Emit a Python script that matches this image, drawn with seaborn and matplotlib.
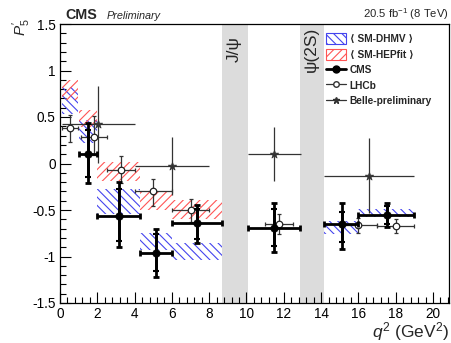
import numpy as np
import pandas as pd
import matplotlib
matplotlib.use("Agg")
import matplotlib.pyplot as plt
import seaborn as sns
from matplotlib.patches import Patch
from matplotlib.lines import Line2D
from matplotlib.ticker import MultipleLocator

# ---------------- data ----------------
# theory bins
th_lo = [0.1, 1.0, 2.0, 4.3, 6.0, 14.18, 16.0]
th_hi = [0.98, 2.0, 4.3, 6.0, 8.68, 16.0, 19.0]
dhmv_lo = [0.53, 0.22, -0.54, -0.93, -1.04, -0.76, -0.575]
dhmv_hi = [0.82, 0.47, -0.27, -0.75, -0.855, -0.62, -0.485]
hep_lo_bin = [0.1, 1.0, 2.0, 4.3, 6.0]
hep_hi_bin = [0.98, 2.0, 4.3, 6.0, 8.68]
hep_lo = [0.68, 0.39, -0.19, -0.50, -0.60]
hep_hi = [0.90, 0.57, 0.02, -0.30, -0.395]

# CMS
cms_lo = [1.0, 2.0, 4.3, 6.0, 10.09, 14.18, 16.0]
cms_hi = [2.0, 4.3, 6.0, 8.68, 12.86, 16.0, 19.0]
cms_x = [1.52, 3.15, 5.15, 7.37, 11.49, 15.14, 17.55]
cms_y = [0.105, -0.56, -0.96, -0.64, -0.69, -0.655, -0.555]
cms_tot_up = [0.33, 0.36, 0.26, 0.19, 0.26, 0.225, 0.125]
cms_tot_dn = [0.31, 0.34, 0.26, 0.22, 0.26, 0.26, 0.125]
cms_stat_up = [0.26, 0.29, 0.20, 0.15, 0.20, 0.13, 0.10]
cms_stat_dn = [0.25, 0.27, 0.20, 0.17, 0.20, 0.19, 0.10]

# LHCb
lhcb_lo = [0.1, 1.1, 2.5, 4.0, 6.0, 11.0, 15.0, 17.0]
lhcb_hi = [0.98, 2.5, 4.0, 6.0, 8.0, 12.5, 17.0, 19.0]
lhcb_y = [0.387, 0.289, -0.066, -0.300, -0.505, -0.655, -0.662, -0.676]
lhcb_up = [0.132, 0.220, 0.142, 0.131, 0.122, 0.108, 0.080, 0.074]
lhcb_dn = [0.161, 0.202, 0.141, 0.159, 0.122, 0.098, 0.083, 0.071]

# Belle preliminary
belle_lo = [0.1, 4.0, 10.09, 14.18]
belle_hi = [4.0, 8.0, 12.9, 19.0]
belle_y = [0.42, -0.03, 0.10, -0.13]
belle_err = [0.41, 0.31, 0.29, 0.40]

# charmonium vetoes
veto_lo = [8.68, 12.86]
veto_hi = [10.09, 14.18]
veto_labels = ["J/\u03c8", "\u03c8(2S)"]

# ---------------- style ----------------
sns.set_style("ticks")
plt.rcParams["font.family"] = ["Liberation Sans", "DejaVu Sans"]
plt.rcParams["mathtext.fontset"] = "custom"
plt.rcParams["mathtext.rm"] = "Liberation Sans"
plt.rcParams["mathtext.it"] = "Liberation Sans:italic"
plt.rcParams["mathtext.bf"] = "Liberation Sans:bold"
plt.rcParams["hatch.linewidth"] = 0.8

W, H = 451, 343
fig = plt.figure(figsize=(W / 100, H / 100), dpi=100)
ax = fig.add_axes([60 / W, 1 - 303 / H, 389 / W, 279 / H])

for lo, hi in zip(veto_lo, veto_hi):
    ax.axvspan(lo, hi, color="#dcdcdc", lw=0, zorder=0)

blue = "#4444ee"
red = "#ff5555"
th_lo_a = np.array(th_lo); th_hi_a = np.array(th_hi)
ax.bar(th_lo_a, np.array(dhmv_hi) - np.array(dhmv_lo), width=th_hi_a - th_lo_a,
       bottom=dhmv_lo, align="edge", facecolor="none", edgecolor=blue,
       hatch="\\\\\\\\", lw=0, zorder=1)
hl = np.array(hep_lo_bin); hh = np.array(hep_hi_bin)
ax.bar(hl, np.array(hep_hi) - np.array(hep_lo), width=hh - hl,
       bottom=hep_lo, align="edge", facecolor="none", edgecolor=red,
       hatch="////", lw=0, zorder=1)

# Belle
bx = (np.array(belle_lo) + np.array(belle_hi)) / 2
ax.errorbar(bx, belle_y, yerr=belle_err,
            xerr=[bx - np.array(belle_lo), np.array(belle_hi) - bx],
            fmt="none", ecolor="#333333", elinewidth=0.9, capsize=0, zorder=3)
sns.scatterplot(x=bx, y=belle_y, marker="*", s=40, color="#333333",
                edgecolor="#333333", linewidth=0.5, ax=ax, zorder=4, legend=False)

# LHCb
lx = (np.array(lhcb_lo) + np.array(lhcb_hi)) / 2
ax.errorbar(lx, lhcb_y, yerr=[lhcb_dn, lhcb_up],
            xerr=[lx - np.array(lhcb_lo), np.array(lhcb_hi) - lx],
            fmt="none", ecolor="#333333", elinewidth=0.9, capsize=1.2,
            capthick=0.9, zorder=3)
sns.scatterplot(x=lx, y=lhcb_y, marker="o", s=22, facecolor="white",
                edgecolor="#222222", linewidth=0.9, ax=ax, zorder=5, legend=False)

# CMS
cx = np.array(cms_x)
ax.errorbar(cx, cms_y, yerr=[cms_tot_dn, cms_tot_up],
            xerr=[cx - np.array(cms_lo), np.array(cms_hi) - cx],
            fmt="none", ecolor="black", elinewidth=2.0, capsize=2,
            capthick=2.0, zorder=6)
ax.errorbar(cx, cms_y, yerr=[cms_stat_dn, cms_stat_up],
            fmt="none", ecolor="black", elinewidth=2.0, capsize=2,
            capthick=1.5, zorder=6)
sns.scatterplot(x=cx, y=cms_y, marker="o", s=30, color="black",
                edgecolor="black", ax=ax, zorder=7, legend=False)

ax.set_xlim(0, 20.86)
ax.set_ylim(-1.5, 1.5)
ax.xaxis.set_major_locator(MultipleLocator(2))
ax.xaxis.set_minor_locator(MultipleLocator(0.4))
ax.yaxis.set_major_locator(MultipleLocator(0.5))
ax.yaxis.set_minor_locator(MultipleLocator(0.1))
ax.set_xticks(np.arange(0, 21, 2))
ax.set_xticklabels([str(v) for v in range(0, 21, 2)])
ax.set_yticks([-1.5, -1, -0.5, 0, 0.5, 1, 1.5])
ax.set_yticklabels(["-1.5", "-1", "-0.5", "0", "0.5", "1", "1.5"])
ax.tick_params(which="both", direction="in", top=False, right=False,
               labelsize=9.8, width=0.8, colors="black")
ax.tick_params(which="major", length=8, pad=3)
ax.tick_params(which="minor", length=4)
for s in ax.spines.values():
    s.set_linewidth(0.9)
    s.set_color("black")
ax.set_xlabel("")
ax.set_ylabel("")

for lo, hi, lab in zip(veto_lo, veto_hi, veto_labels):
    ax.text((lo + hi) / 2 - 0.05, 1.23, lab, rotation=90, ha="center",
            va="center", fontsize=12.5, zorder=8)

fig.text(449 / W, 1 - 337.5 / H, "$q^{2}$ (GeV$^{2}$)", ha="right",
         va="baseline", fontsize=12.5)
fig.text(22 / W, 1 - 27 / H, "$P_5'$", rotation=90, ha="center", va="center",
         fontsize=11)
fig.text(65 / W, 1 - 19 / H, "CMS", fontweight="bold", fontsize=10.3,
         va="baseline")
fig.text(107 / W, 1 - 19 / H, "Preliminary", fontstyle="italic", fontsize=7.8,
         va="baseline")
fig.text(449 / W, 1 - 18.5 / H, "20.5 fb$^{-1}$ (8 TeV)", ha="right",
         va="baseline", fontsize=8.1)

handles = [
    Patch(facecolor="white", edgecolor=blue, hatch="\\\\\\\\", lw=0.8),
    Patch(facecolor="white", edgecolor=red, hatch="////", lw=0.8),
    Line2D([], [], color="black", lw=2, marker="o", ms=5),
    Line2D([], [], color="#333333", lw=0.9, marker="o", ms=4,
           markerfacecolor="white"),
    Line2D([], [], color="#333333", lw=0.9, marker="*", ms=5),
]
labels = ["\u27e8 SM-DHMV \u27e9", "\u27e8 SM-HEPfit \u27e9", "CMS", "LHCb",
          "Belle-preliminary"]
leg = fig.legend(handles, labels, loc="upper left",
                 bbox_to_anchor=(326 / W, 1 - 33 / H), frameon=False,
                 prop={"size": 7.3, "weight": "bold",
                       "family": ["Liberation Sans", "DejaVu Sans"]},
                 handlelength=2.0, handleheight=1.3, handletextpad=0.35,
                 labelspacing=0.45, borderpad=0, borderaxespad=0)

fig.savefig("out.png", dpi=100)
